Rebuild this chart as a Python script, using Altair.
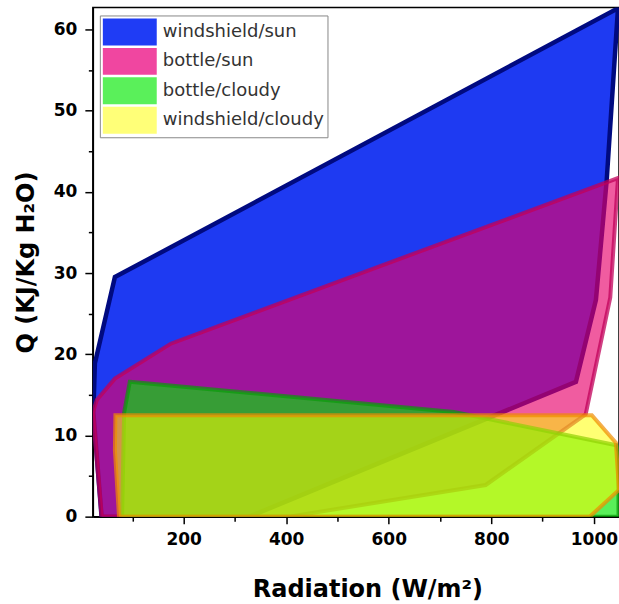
import altair as alt
import pandas as pd

series = ["windshield/sun", "bottle/sun", "bottle/cloudy", "windshield/cloudy"]

# polygon vertices (Radiation W/m2, Q KJ/Kg H2O)
blue_x = [66, 1047, 1025, 1004, 965, 328, 40, 24, 27]
blue_y = [29.5, 62.6, 41.4, 26.7, 16.6, 0, 0, 12.8, 18.9]
pink_x = [23, 31, 66, 175, 1047, 1032, 984, 789, 406, 40]
pink_y = [12.8, 14.4, 17.0, 21.3, 41.7, 27.0, 12.6, 3.9, 0, 0]
green_x = [95, 727, 1044, 1048, 1048, 80, 84]
green_y = [16.6, 12.9, 8.8, 8.0, 0, 0, 12.8]
yellow_x = [67, 996, 1043, 1049, 992, 74, 66]
yellow_y = [12.5, 12.5, 9.1, 3.3, 0, 0, 8.2]

xs = [blue_x, pink_x, green_x, yellow_x]
ys = [blue_y, pink_y, green_y, yellow_y]

legend_colors = ["#1f3cf5", "#f046a0", "#5af05a", "#ffff78"]
fills = ["#1e3af2", "#e8006b", "#00e600", "#ffff00"]
fill_opacity = [1.0, 0.64, 0.65, 0.55]
strokes = ["#000a80", "#c0005a", "#0a9a0a", "#f08c00"]
stroke_opacity = [1.0, 0.75, 0.7, 0.7]
stroke_width = [4.5, 4, 4, 4]

x_major = [200, 400, 600, 800, 1000]
x_minor = [100, 300, 500, 700, 900]
y_major = [0, 10, 20, 30, 40, 50, 60]
y_minor = [5, 15, 25, 35, 45, 55]

xscale = alt.Scale(domain=[23, 1049], nice=False, zero=False)
yscale = alt.Scale(domain=[0, 62.7], nice=False, zero=False)

layers = []
for k, name in enumerate(series):
    df = pd.DataFrame({"series": name, "i": list(range(len(xs[k]))), "x": xs[k], "y": ys[k]})
    if k == 0:
        xax = alt.Axis(values=x_major, format="d", title="Radiation (W/m²)", grid=False, tickSize=7,
                       labelPadding=8, titleX=275, titleY=80, titleBaseline="alphabetic",
                       titleAlign="center", orient="bottom")
        yax = alt.Axis(values=y_major, format="d", title="Q (KJ/Kg H₂O)", grid=False, tickSize=8,
                       labelPadding=8, titleX=-59, titleY=255, titleAngle=270,
                       titleBaseline="alphabetic", titleAlign="center", orient="left")
    else:
        xax = None
        yax = None
    layer = alt.Chart(df).mark_line(
        interpolate="linear-closed", fill=fills[k], fillOpacity=fill_opacity[k],
        stroke=strokes[k], strokeOpacity=stroke_opacity[k], strokeWidth=stroke_width[k],
        clip=True,
    ).encode(
        x=alt.X("x:Q", scale=xscale, axis=xax),
        y=alt.Y("y:Q", scale=yscale, axis=yax),
        order=alt.Order("i:Q"),
    )
    layers.append(layer)

# minor ticks
minor_df = pd.DataFrame({"x": [500.0], "y": [30.0]})
minor = alt.Chart(minor_df).mark_point(opacity=0).encode(
    x=alt.X("x:Q", scale=xscale, axis=alt.Axis(values=x_minor, labels=False, domain=False,
                                                 grid=False, tickSize=4.5, title=None, orient="bottom")),
    y=alt.Y("y:Q", scale=yscale, axis=alt.Axis(values=y_minor, labels=False, domain=False,
                                                 grid=False, tickSize=4.5, title=None, orient="left")),
)
layers.append(minor)

# legend
leg_df = pd.DataFrame({"series": series, "x": [-500.0] * 4, "y": [-50.0] * 4})
legend_layer = alt.Chart(leg_df).mark_point(filled=True, clip=True).encode(
    x=alt.X("x:Q", scale=xscale, axis=None),
    y=alt.Y("y:Q", scale=yscale, axis=None),
    color=alt.Color("series:N", scale=alt.Scale(domain=series, range=legend_colors),
                    legend=alt.Legend(title=None, orient="none", legendX=7, legendY=8,
                                      direction="vertical",
                                      symbolType="M-1,-1H3V1H-1Z", symbolSize=729,
                                      symbolStrokeWidth=0, symbolOpacity=1,
                                      labelFont="DejaVu Sans", labelFontSize=18,
                                      labelFontWeight="normal", labelColor="#333333",
                                      labelLimit=400,
                                      labelOffset=33, rowPadding=2.5, padding=3,
                                      strokeColor="#888888", fillColor="white")),
)
layers.append(legend_layer)

chart = alt.layer(*layers).resolve_axis(x="independent", y="independent").properties(
    width=527, height=510,
    autosize=alt.AutoSizeParams(type="none"),
    padding={"left": 93, "top": 7, "right": 0, "bottom": 87},
    background="white",
).configure_view(
    stroke="black", strokeWidth=1.5
).configure_axis(
    domainColor="black", domainWidth=1.5, tickColor="black", tickWidth=1.5,
    labelFont="DejaVu Sans", labelFontWeight="bold", labelFontSize=17, labelColor="black",
    titleFont="DejaVu Sans", titleFontWeight="bold", titleFontSize=24, titleColor="black",
)

chart.save("out.html", embed_options={"renderer": "svg", "actions": False})
